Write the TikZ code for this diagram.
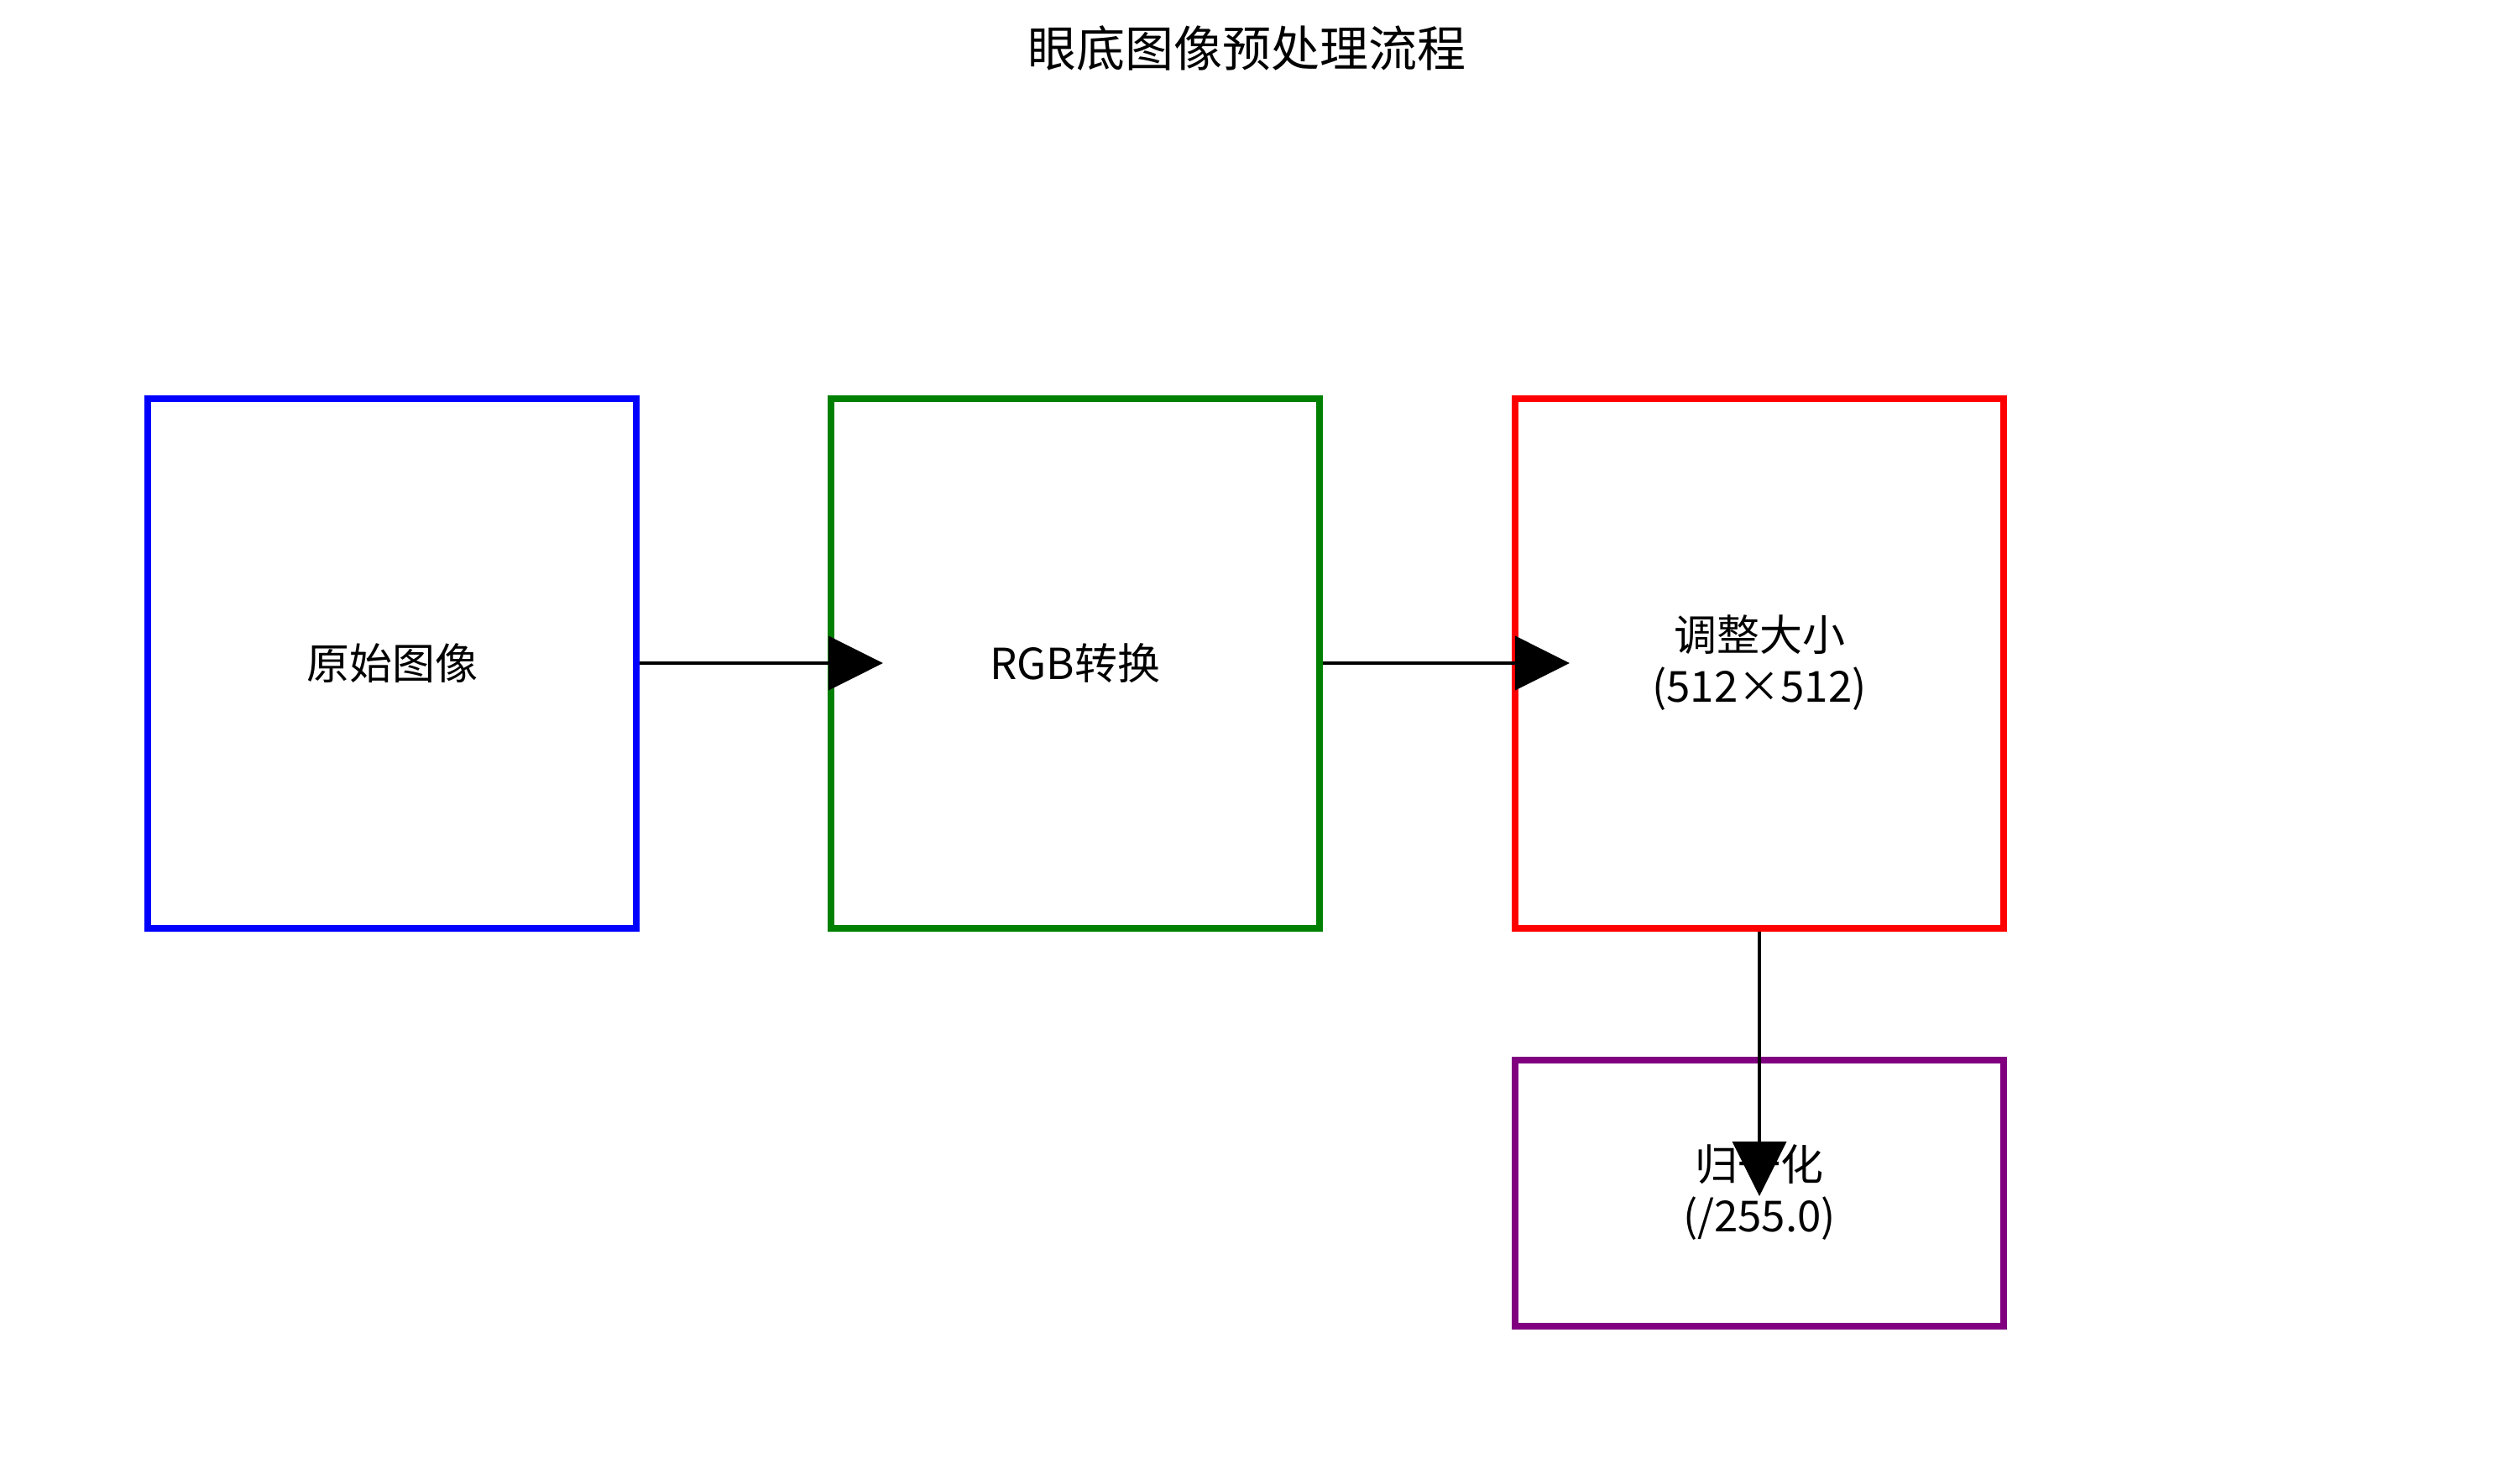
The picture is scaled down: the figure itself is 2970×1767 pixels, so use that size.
\documentclass[tikz,border=0pt]{standalone}
\usepackage{fontspec}
\setmainfont{Noto Sans CJK SC}
\usetikzlibrary{arrows.meta}
\tikzset{
  box/.style={draw, line width=8pt, inner sep=0pt, minimum width=582pt, align=center,
    font=\fontsize{51pt}{61pt}\selectfont},
  conn/.style={line width=4pt, -{Triangle[length=65pt,width=64pt]}}
}
\begin{document}
\begin{tikzpicture}[x=1pt,y=-1pt]
\useasboundingbox (0,0) rectangle (2970,1767);
\node[font=\fontsize{58pt}{70pt}\selectfont] (title) at (1485,57) {眼底图像预处理流程};
\node[box, draw={rgb,255:red,0;green,0;blue,255}, minimum height=631pt] (b1) at (467,790) {原始图像};
\node[box, draw={rgb,255:red,0;green,128;blue,0}, minimum height=631pt] (b2) at (1280.5,790) {RGB转换};
\node[box, draw={rgb,255:red,255;green,0;blue,0}, minimum height=631pt] (b3) at (2096,790) {调整大小\\(512×512)};
\node[box, draw={rgb,255:red,128;green,0;blue,128}, minimum height=317pt] (b4) at (2096,1421) {归一化\\(/255.0)};
\coordinate (t1) at (1052,790);
\coordinate (t2) at (1870,790);
\coordinate (t3) at (2096,1425);
\draw[conn] (b1.east |- t1) -- (t1);
\draw[conn] (b2.east |- t2) -- (t2);
\draw[conn] (b3.south) -- (t3);
\end{tikzpicture}
\end{document}
